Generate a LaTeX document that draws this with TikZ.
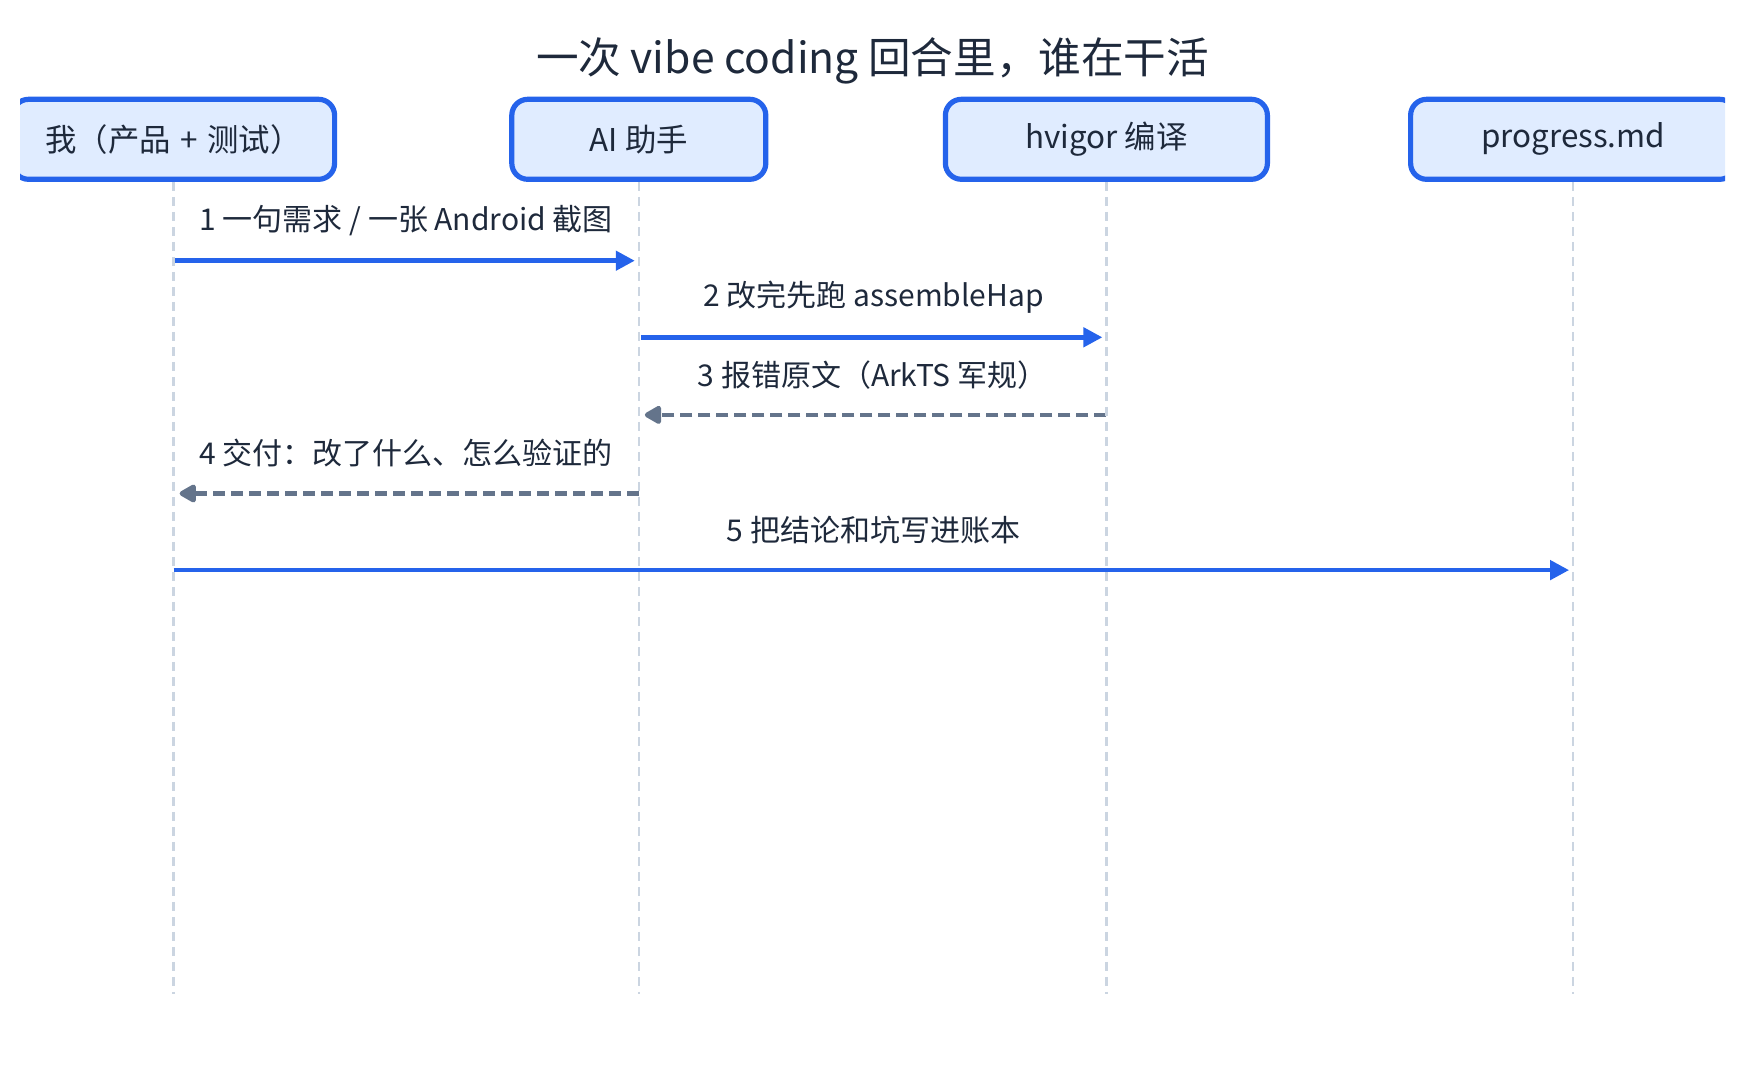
\documentclass[tikz,border=0pt]{standalone}
\usepackage{fontspec}
\setmainfont{Noto Sans CJK SC}
\usepackage{xcolor}
\usetikzlibrary{arrows.meta,positioning,calc}
\definecolor{boxfill}{HTML}{E0ECFF}
\definecolor{boxline}{HTML}{2563EB}
\definecolor{inkdark}{HTML}{1E293B}
\definecolor{lifegray}{HTML}{CBD5E1}
\definecolor{replygray}{HTML}{64748B}

\begin{document}
\begin{tikzpicture}[x=0.5pt,y=-0.5pt,
    actor/.style={draw=boxline, line width=2.6pt, fill=boxfill, rounded corners=8pt,
        minimum height=40pt, text=inkdark, font=\fontsize{15.7}{18}\selectfont},
    lifeline/.style={lifegray, line width=1.3pt, dash pattern=on 4.5pt off 3pt},
    call/.style={boxline, line width=2.3pt, shorten >=2pt, -{Triangle[length=9.5pt,width=9.5pt]}},
    reply/.style={replygray, line width=2.4pt, dash pattern=on 6pt off 3pt, shorten >=3pt,
        -{Triangle[length=9.5pt,width=10pt,round]}},
    msg/.style={text=inkdark, font=\fontsize{15}{18}\selectfont}]
    \useasboundingbox (0,0) rectangle (1745,1087);

    \node[text=inkdark, font=\fontsize{21.3}{26}\selectfont] (title) at (872.6,60.7) {一次 vibe coding 回合里，谁在干活};

    % participants (outer ones are cut by the frame)
    \begin{scope}
        \clip (20,0) rectangle (1725,1087);
        \node[actor, minimum width=161pt] (me) at (173.6,139.3) {我（产品\hspace{0.3em}+\hspace{0.3em}测试）};
        \node[actor, minimum width=127pt] (ai) at (638.8,139.3) {AI 助手};
        \node[actor, minimum width=161pt] (hv) at (1106.4,139.3) {hvigor 编译};
        \node[actor, minimum width=162.5pt] (pm) at (1573.1,139.3) {progress.md};
    \end{scope}

    % points on the lifelines, one row per message
    \foreach \who in {me,ai,hv,pm} {
        \foreach \k/\y in {1/260.7,2/337.3,3/414.9,4/493.5,5/570.1}
            \coordinate (\who-\k) at (\who.south |- 0,\y);
        \coordinate (\who-end) at (\who.south |- 0,994);
    }

    \draw[call] (me-1) -- (ai-1) node[msg, midway, yshift=20pt] {1 一句需求 / 一张 Android 截图};
    \draw[call] ([xshift=1pt]ai-2) -- (hv-2) node[msg, midway, yshift=20pt] {2 改完先跑 assembleHap};
    \draw[reply] (hv-3) -- (ai-3) node[msg, midway, yshift=20pt] {3 报错原文（ArkTS 军规）};
    \draw[reply] (ai-4) -- (me-4) node[msg, midway, yshift=20pt] {4 交付：改了什么、怎么验证的};
    \draw[call] (me-5) -- (pm-5) node[msg, midway, yshift=20pt] {5 把结论和坑写进账本};

    \foreach \who in {me,ai,hv,pm}
        \draw[lifeline] (\who.south) -- (\who-end);
\end{tikzpicture}
\end{document}
